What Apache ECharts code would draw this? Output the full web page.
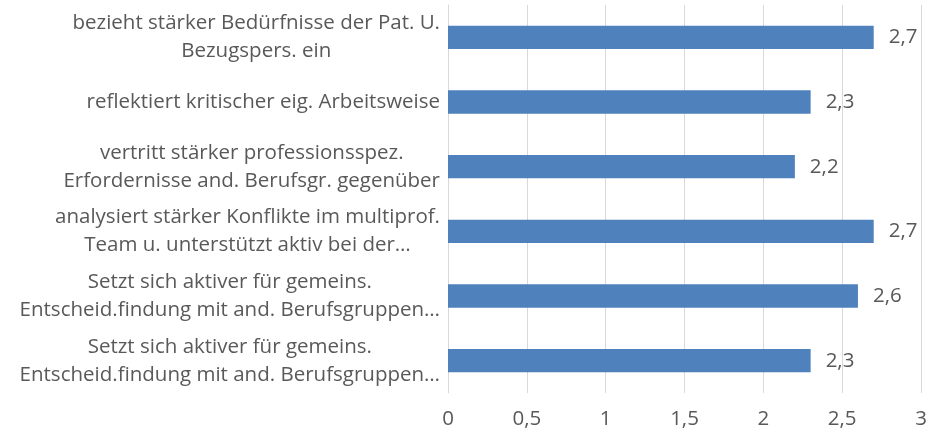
<!DOCTYPE html>
<html>
<head>
<meta charset="utf-8">
<script src="https://cdn.jsdelivr.net/npm/echarts@6/dist/echarts.min.js"></script>
<style>
    html, body { margin: 0; padding: 0; background: #fff; }
    #chart { width: 930px; height: 435px; }
</style>
</head>
<body>
<div id="chart"></div>
<script>
// Kategorien von oben nach unten
var categories = [
    'bezieht stärker Bedürfnisse der Pat. U.\nBezugspers. ein',
    'reflektiert kritischer eig. Arbeitsweise',
    'vertritt stärker professionsspez.\nErfordernisse and. Berufsgr. gegenüber',
    'analysiert stärker Konflikte im multiprof.\nTeam u. unterstützt aktiv bei der…',
    'Setzt sich aktiver für gemeins.\nEntscheid.findung mit and. Berufsgruppen…',
    'Setzt sich aktiver für gemeins.\nEntscheid.findung mit and. Berufsgruppen…'
];
var values = [2.7, 2.3, 2.2, 2.7, 2.6, 2.3];
var xTicks = [0, 0.5, 1, 1.5, 2, 2.5, 3];

var font = '"Open Sans", Lato, sans-serif';
var textColor = '#595959';

function komma(v) {
    return String(v).replace('.', ',');
}

var chart = echarts.init(document.getElementById('chart'));

var option = {
    animation: false,
    grid: {
        left: 448,
        right: 9,
        top: 5,
        bottom: 42
    },
    xAxis: {
        type: 'value',
        min: xTicks[0],
        max: xTicks[xTicks.length - 1],
        interval: 0.5,
        axisLine: { show: false },
        axisTick: { show: false },
        splitLine: { lineStyle: { color: '#d9d9d9', width: 1 } },
        axisLabel: {
            color: textColor,
            fontFamily: font,
            fontSize: 20.5,
            margin: 16,
            formatter: function (v) { return komma(v); }
        }
    },
    yAxis: {
        type: 'category',
        data: categories,
        inverse: true,
        axisLine: { show: true, lineStyle: { color: '#d9d9d9', width: 1 } },
        axisTick: { show: false },
        axisLabel: {
            margin: 8,
            // Zeilen innerhalb des Blocks zentrieren
            formatter: function (v) {
                return v.split('\n').map(function (l) { return '{c|' + l + '}'; }).join('\n');
            },
            rich: {
                c: {
                    align: 'center',
                    color: textColor,
                    fontFamily: font,
                    fontSize: 20.5,
                    lineHeight: 28
                }
            }
        }
    },
    series: [
        {
            type: 'bar',
            data: values,
            barCategoryGap: '64%',
            itemStyle: { color: '#4f81bd' },
            label: {
                show: true,
                position: 'right',
                distance: 15,
                color: textColor,
                fontFamily: font,
                fontSize: 20.5,
                formatter: function (p) { return komma(p.value); }
            }
        }
    ]
};

chart.setOption(option);
</script>
</body>
</html>
